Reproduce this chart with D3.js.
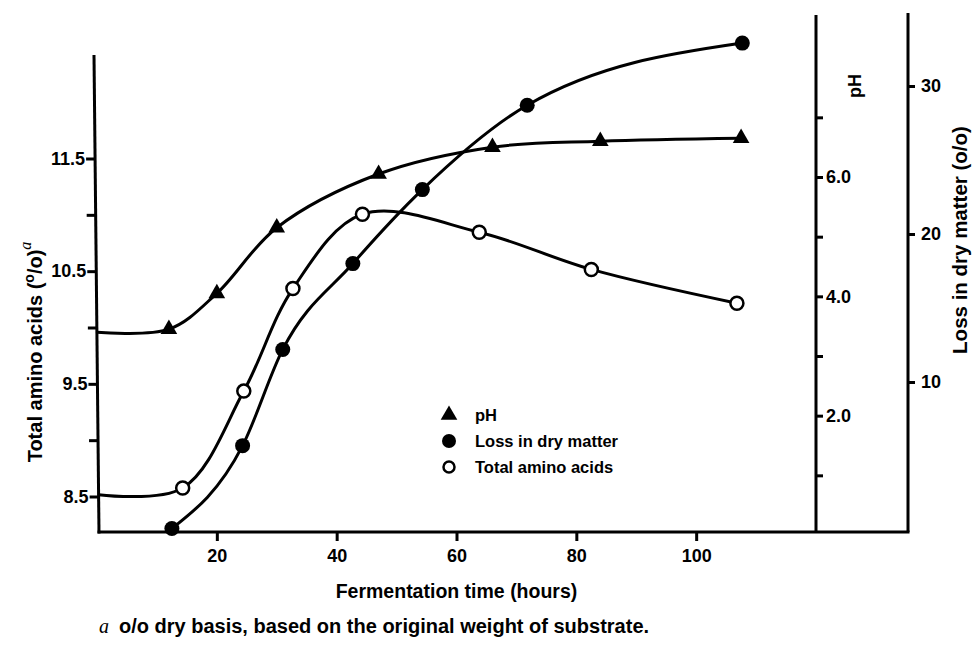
<!DOCTYPE html>
<html lang="en">
<head>
<meta charset="utf-8">
<title>Fermentation time</title>
<script src="https://cdn.jsdelivr.net/npm/d3@7"></script>
<style>
  body { margin: 0; background: #fff; }
  text { font-family: "Liberation Sans", Arial, sans-serif; font-weight: bold; fill: #000; }
</style>
</head>
<body>
<script>
// readings (hours)
var phHours = [12, 20, 30, 47, 66, 84, 107.5];
var phValues = [3.45, 4.05, 5.15, 6.05, 6.5, 6.6, 6.65];
var lossHours = [12.5, 24.3, 31, 42.7, 54.3, 71.8, 107.7];
var lossValues = [0.1, 5.7, 12.2, 18.0, 23.0, 28.7, 32.9];
var aminoHours = [14.3, 24.5, 32.7, 44.3, 63.8, 82.5, 106.8];
var aminoValues = [8.58, 9.44, 10.35, 11.01, 10.85, 10.52, 10.22];
// where the drawn curves meet the left axis
var phStart = 3.4;
var aminoStart = 8.52;

var xTicks = [20, 40, 60, 80, 100];
var aminoTicks = [8.5, 9, 9.5, 10, 10.5, 11, 11.5];
var aminoLabels = ["8.5", "9.5", "10.5", "11.5"];
var phTicks = [1, 2, 3, 4, 5, 6, 7];
var phLabels = ["2.0", "4.0", "6.0"];
var lossTicks = [10, 20, 30];
var legendNames = ["pH", "Loss in dry matter", "Total amino acids"];

var W = 977, H = 649;
var leftX = 99, leftTopX = 94, axisTop = 55, bottom = 532, phAxisX = 816, lossAxisX = 908;

var svg = d3.select("body").append("svg")
    .attr("width", W).attr("height", H);

var x = d3.scaleLinear().domain([0, 120]).range([97, phAxisX]);
var yAmino = d3.scaleLinear().domain([8.5, 11.5]).range([497, 159]);
var yPh = d3.scaleLinear().domain([0, 6]).range([535, 177]);
var yLoss = d3.scaleLinear().domain([0, 30]).range([530, 86]);
// the printed left axis leans a little
var lean = d3.scaleLinear().domain([bottom, axisTop]).range([leftX, leftTopX]);

var ink = "#000";

// frame lines
svg.append("line").attr("x1", leftTopX).attr("y1", axisTop).attr("x2", leftX).attr("y2", bottom + 1.5)
    .attr("stroke", ink).attr("stroke-width", 3);
svg.append("line").attr("x1", leftX - 1.5).attr("y1", bottom).attr("x2", lossAxisX + 1.5).attr("y2", bottom)
    .attr("stroke", ink).attr("stroke-width", 3);
svg.append("line").attr("x1", phAxisX).attr("y1", 15).attr("x2", phAxisX).attr("y2", bottom)
    .attr("stroke", ink).attr("stroke-width", 3);
svg.append("line").attr("x1", lossAxisX).attr("y1", 13).attr("x2", lossAxisX).attr("y2", bottom)
    .attr("stroke", ink).attr("stroke-width", 3);

function styleAxis(g) {
  g.select(".domain").remove();
  g.selectAll(".tick line").attr("stroke-width", 3);
  g.selectAll(".tick text").attr("font-size", 18)
    .style("font-family", "Liberation Sans").style("font-weight", "bold");
}

// x axis ticks
var gx = svg.append("g").attr("transform", "translate(0," + bottom + ")")
    .call(d3.axisBottom(x).tickValues(xTicks).tickSize(9).tickPadding(8));
styleAxis(gx);

// left axis
var gl = svg.append("g")
    .call(d3.axisLeft(yAmino).tickValues(aminoTicks).tickSize(9).tickPadding(1)
        .tickFormat(function(d) { return aminoLabels.indexOf(d.toFixed(1)) >= 0 ? d.toFixed(1) : ""; }));
styleAxis(gl);
gl.selectAll(".tick").attr("transform", function(d) {
  return "translate(" + lean(yAmino(d)) + "," + yAmino(d) + ")";
});

// pH axis
var gp = svg.append("g").attr("transform", "translate(" + phAxisX + ",0)")
    .call(d3.axisRight(yPh).tickValues(phTicks).tickSize(7).tickPadding(3)
        .tickFormat(function(d) { return phLabels.indexOf(d.toFixed(1)) >= 0 ? d.toFixed(1) : ""; }));
styleAxis(gp);

// loss axis
var gr = svg.append("g").attr("transform", "translate(" + lossAxisX + ",0)")
    .call(d3.axisRight(yLoss).tickValues(lossTicks).tickSize(7).tickPadding(6));
styleAxis(gr);

// curves
var phPts = [[0, phStart]].concat(phHours.map(function(h, i) { return [h, phValues[i]]; }));
var aminoPts = [[0, aminoStart]].concat(aminoHours.map(function(h, i) { return [h, aminoValues[i]]; }));
var lossPts = lossHours.map(function(h, i) { return [h, lossValues[i]]; });

function curve(scaleY, kind) {
  return d3.line()
    .x(function(d) { return d[0] === 0 ? lean(scaleY(d[1])) : x(d[0]); })
    .y(function(d) { return scaleY(d[1]); })
    .curve(kind);
}

svg.append("path").datum(phPts).attr("d", curve(yPh, d3.curveCatmullRom.alpha(0.5)))
    .attr("fill", "none").attr("stroke", ink).attr("stroke-width", 3);
svg.append("path").datum(aminoPts).attr("d", curve(yAmino, d3.curveCatmullRom.alpha(0.5)))
    .attr("fill", "none").attr("stroke", ink).attr("stroke-width", 3);
svg.append("path").datum(lossPts).attr("d", curve(yLoss, d3.curveMonotoneX))
    .attr("fill", "none").attr("stroke", ink).attr("stroke-width", 3);

// markers
var tri = d3.symbol().type(d3.symbolTriangle).size(120);
svg.selectAll(".ph").data(phPts.slice(1)).enter().append("path")
    .attr("transform", function(d) { return "translate(" + x(d[0]) + "," + yPh(d[1]) + ")"; })
    .attr("d", tri).attr("fill", ink);
svg.selectAll(".loss").data(lossPts).enter().append("circle")
    .attr("cx", function(d) { return x(d[0]); })
    .attr("cy", function(d) { return yLoss(d[1]); })
    .attr("r", 7.5).attr("fill", ink);
svg.selectAll(".amino").data(aminoPts.slice(1)).enter().append("circle")
    .attr("cx", function(d) { return x(d[0]); })
    .attr("cy", function(d) { return yAmino(d[1]); })
    .attr("r", 6.5).attr("fill", "#fff").attr("stroke", ink).attr("stroke-width", 2.5);

// legend
var lg = svg.append("g").attr("transform", "translate(449,0)");
lg.append("path").attr("transform", "translate(0,415)").attr("d", tri).attr("fill", ink);
lg.append("circle").attr("cx", 0).attr("cy", 441).attr("r", 7).attr("fill", ink);
lg.append("circle").attr("cx", 0).attr("cy", 467).attr("r", 5.5).attr("fill", "#fff")
    .attr("stroke", ink).attr("stroke-width", 2.5);
lg.selectAll(".lt").data(legendNames).enter().append("text")
    .attr("x", 26).attr("y", function(d, i) { return 421 + i * 26; })
    .attr("font-size", 16.5).text(function(d) { return d; });

// axis titles
svg.append("text").attr("x", x(60)).attr("y", 598).attr("text-anchor", "middle")
    .attr("font-size", 19.5).text("Fermentation time (hours)");

var yt = svg.append("text").attr("transform", "translate(42,352) rotate(-90)")
    .attr("text-anchor", "middle").attr("font-size", 20);
yt.append("tspan").text("Total amino acids (");
yt.append("tspan").attr("dy", -8).attr("font-size", 14).text("o");
yt.append("tspan").attr("dy", 8).text("/o)");
yt.append("tspan").attr("dy", -11).attr("font-size", 16)
    .style("font-family", "Liberation Serif").style("font-style", "italic").style("font-weight", "normal").text("a");

svg.append("text").attr("transform", "translate(861,86) rotate(-90)")
    .attr("text-anchor", "middle").attr("font-size", 18).text("pH");
svg.append("text").attr("transform", "translate(967,240) rotate(-90)")
    .attr("text-anchor", "middle").attr("font-size", 20.5).text("Loss in dry matter (o/o)");

// footnote
svg.append("text").attr("x", 99).attr("y", 633).attr("font-size", 20)
    .style("font-family", "Liberation Serif").style("font-style", "italic").style("font-weight", "normal").text("a");
svg.append("text").attr("x", 119).attr("y", 633).attr("font-size", 20)
    .text("o/o dry basis, based on the original weight of substrate.");
</script>
</body>
</html>
